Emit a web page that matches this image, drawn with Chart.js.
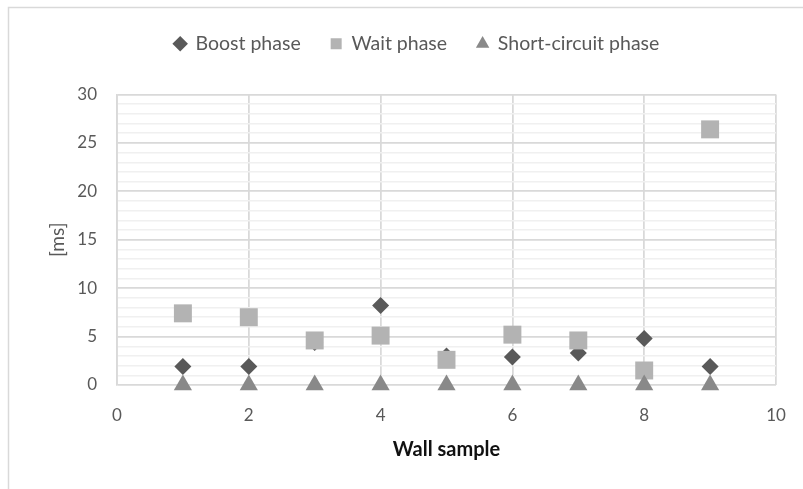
<!DOCTYPE html>
<html>
<head>
<meta charset="utf-8">
<script src="https://cdn.jsdelivr.net/npm/chart.js@4.4.0/dist/chart.umd.min.js"></script>
<style>
  html, body { margin: 0; padding: 0; background: #fff; }
  #wrap { width: 803px; height: 489px; }
</style>
</head>
<body>
<div id="wrap"><canvas id="chart" width="803" height="489"></canvas></div>
<script>
// Wall samples on the x axis
const wallSamples = [1, 2, 3, 4, 5, 6, 7, 8, 9];

// Phase durations [ms]
const boostPhase = [1.9, 1.9, 4.4, 8.2, 3.0, 2.9, 3.3, 4.8, 1.9];
const waitPhase = [7.4, 7.0, 4.6, 5.1, 2.6, 5.2, 4.6, 1.5, 26.4];
const shortCircuitPhase = [0, 0, 0, 0, 0, 0, 0, 0, 0];

const seriesNames = ['Boost phase', 'Wait phase', 'Short-circuit phase'];

const FONT = 'Lato, "Liberation Sans", sans-serif';
const TEXT_COLOR = '#595959';
const GRID_MAJOR = '#d9d9d9';
const GRID_MINOR = '#f0f0f0';

function toPoints(values) {
    return wallSamples.map((x, i) => ({ x: x, y: values[i] }));
}

// outer frame like the office chart border
const frameBorder = {
    id: 'frameBorder',
    beforeDraw(chart) {
        const c = chart.ctx;
        c.save();
        c.strokeStyle = GRID_MAJOR;
        c.lineWidth = 1.5;
        c.beginPath();
        c.moveTo(8.5, 600);
        c.lineTo(8.5, 7.5);
        c.lineTo(900, 7.5);
        c.stroke();
        c.restore();
    }
};

// gap under the legend, and legend centred a bit to the right
const legendGap = {
    id: 'legendGap',
    beforeInit(chart) {
        const fit = chart.legend.fit;
        chart.legend.fit = function() {
            fit.bind(chart.legend)();
            this.height += 31;
        };
    },
    afterLayout(chart) {
        chart.legend.left += 29;
        chart.legend.right += 29;
    }
};

const ctx = document.getElementById('chart');
const chart = new Chart(ctx, {
    type: 'scatter',
    data: {
        datasets: [
            {
                label: seriesNames[0],
                data: toPoints(boostPhase),
                pointStyle: 'rectRot',
                pointRadius: 8.5,
                pointHoverRadius: 8.5,
                backgroundColor: '#595959',
                borderColor: '#595959',
                borderWidth: 0,
                order: 3,
                clip: false
            },
            {
                label: seriesNames[1],
                data: toPoints(waitPhase),
                pointStyle: 'rect',
                pointRadius: 12.7,
                pointHoverRadius: 12.7,
                backgroundColor: '#b3b3b3',
                borderColor: '#b3b3b3',
                borderWidth: 0,
                order: 2,
                clip: false
            },
            {
                label: seriesNames[2],
                data: toPoints(shortCircuitPhase),
                pointStyle: 'triangle',
                pointRadius: 10.5,
                pointHoverRadius: 10.5,
                backgroundColor: '#898989',
                borderColor: '#898989',
                borderWidth: 0,
                order: 1,
                clip: false
            }
        ]
    },
    options: {
        responsive: false,
        animation: false,
        layout: {
            padding: { left: 0, right: 27, top: 4, bottom: 0 }
        },
        plugins: {
            legend: {
                position: 'top',
                labels: {
                    usePointStyle: true,
                    boxWidth: 11,
                    boxHeight: 11,
                    padding: 30,
                    color: TEXT_COLOR,
                    font: { family: FONT, size: 19.5 },
                    sort: (a, b) => a.datasetIndex - b.datasetIndex
                }
            },
            tooltip: { enabled: false }
        },
        scales: {
            x: {
                type: 'linear',
                min: 0,
                max: 10,
                afterFit: function(scale) { scale.height = 104; },
                ticks: {
                    stepSize: 2,
                    padding: 8,
                    color: TEXT_COLOR,
                    font: { family: FONT, size: 17, lineHeight: 2.7 }
                },
                grid: {
                    color: GRID_MAJOR,
                    lineWidth: 1.75,
                    drawTicks: false
                },
                border: { display: false },
                title: {
                    display: true,
                    text: 'Wall sample',
                    color: '#111',
                    font: { family: FONT, size: 20, weight: 'bold' },
                    padding: 27
                }
            },
            y: {
                type: 'linear',
                min: 0,
                max: 30,
                afterFit: function(scale) { scale.width = 117; },
                afterBuildTicks: function(scale) {
                    const ticks = [];
                    for (let v = 0; v <= 30; v++) ticks.push({ value: v });
                    scale.ticks = ticks;
                },
                ticks: {
                    autoSkip: false,
                    padding: 20,
                    color: TEXT_COLOR,
                    font: { family: FONT, size: 17 },
                    callback: function(value) {
                        return value % 5 === 0 ? String(value) : '';
                    }
                },
                grid: {
                    color: function(c) {
                        return c.tick && c.tick.value % 5 === 0 ? GRID_MAJOR : GRID_MINOR;
                    },
                    lineWidth: function(c) {
                        return c.tick && c.tick.value % 5 === 0 ? 1.75 : 1.5;
                    },
                    drawTicks: false
                },
                border: { display: true, color: GRID_MAJOR, width: 1.75 },
                title: {
                    display: true,
                    text: '[ms]',
                    color: TEXT_COLOR,
                    font: { family: FONT, size: 19 },
                    padding: 46
                }
            }
        }
    },
    plugins: [frameBorder, legendGap]
});
</script>
</body>
</html>
